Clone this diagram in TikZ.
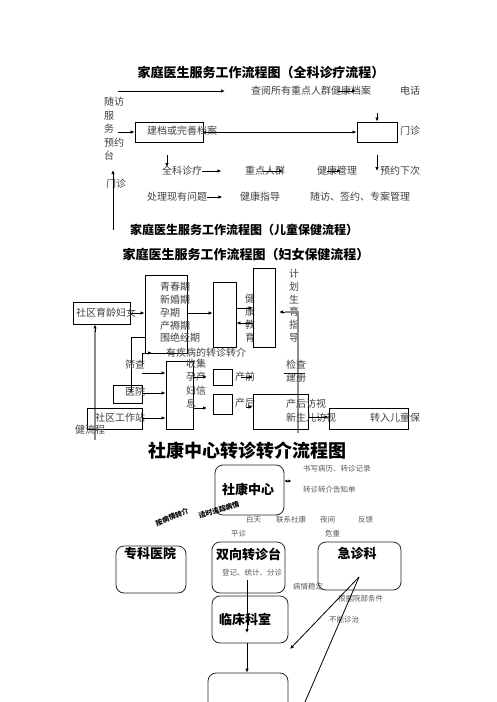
\documentclass[tikz,border=0pt]{standalone}
\usepackage{fontspec}
\setmainfont{Noto Sans CJK SC}
\usetikzlibrary{arrows.meta, positioning}

\begin{document}
\begin{tikzpicture}[
    x=1pt, y=-1pt,
    title/.style={font=\fontsize{13}{15}\selectfont\bfseries, inner sep=0},
    txt/.style={font=\fontsize{10}{13}\selectfont, text=black!75, inner sep=0, anchor=west},
    small/.style={font=\fontsize{7.5}{9}\selectfont, text=black!65, inner sep=0, anchor=west},
    head/.style={font=\fontsize{13}{15}\selectfont\bfseries, inner sep=0},
    box/.style={draw, line width=0.9pt, inner sep=0},
    rbox/.style={draw=black!85, line width=0.8pt, rounded corners=8pt, inner sep=0},
    arr/.style={-{Latex[length=4pt, width=3.5pt]}, line width=0.8pt},
    gline/.style={draw=black!45, line width=1.3pt},
]
    \useasboundingbox (0,0) rectangle (496,702);

    % General practice flow
    \node[title] (t1) at (261,73) {家庭医生服务工作流程图（全科诊疗流程）};
    \coordinate (c1) at (118,91);
    \coordinate (c1e) at (225,91);
    \draw[arr] (c1) -- (c1e);
    \node[txt] (cyda) at (251,91) {查阅所有重点人群健康档案};
    \draw[arr] (338,91) -- (356,91);
    \node[txt] (dh) at (400,91) {电话};
    \node[txt, align=left, anchor=north west, font=\fontsize{10}{13.5}\selectfont] (sfys) at (104,97) {随访\\服\\务\\预约\\台};

    \node[box, minimum width=68, minimum height=20] (jdbox) at (169,132) {};
    \node[txt] (jd) at (147,131) {建档或完善档案};
    \coordinate (c2) at (118,132);
    \draw[arr] (c2) -- (jdbox.west);
    \node[box, minimum width=40, minimum height=20] (mzbox) at (377,132) {};
    \draw[arr] (jdbox.east) -- (mzbox.west);
    \coordinate (c3) at (377,113);
    \draw[arr] (c3) -- (mzbox.north);
    \node[txt] (mz) at (400,131) {门诊};

    \node[txt] (qkzl) at (162,171) {全科诊疗};
    \draw[arr] (167,155) -- (167,167);
    \draw[arr] (qkzl.east) -- ++(19,0);
    \node[txt] (zdrq) at (245,171) {重点人群};
    \draw[arr] (263,171) -- (283,171);
    \node[txt] (jkgl) at (317,171) {健康管理};
    \draw[arr] (327,171) -- (341,171);
    \node[txt] (yyxc) at (380,171) {预约下次};
    \draw[arr] (377,155) -- (377,171);
    \node[txt] (mz2) at (106,184) {门诊};
    \node[txt] (clwt) at (147,197) {处理现有问题};
    \draw[arr] (clwt.east) -- ++(15,0);
    \node[txt] (jkzd) at (240,197) {健康指导};
    \node[txt] (sfqy) at (310,197) {随访、签约、专案管理};
    \draw[arr] (113,230) -- (113,170);

    % Titles
    \node[title, font=\fontsize{12}{14}\selectfont\bfseries] (t2) at (244,230) {家庭医生服务工作流程图（儿童保健流程）};
    \node[title] (t3) at (246,255) {家庭医生服务工作流程图（妇女保健流程）};

    % Women's health flow
    \node[box, minimum width=57, minimum height=22] (sqbox) at (101.5,313) {};
    \node[txt] (sq) at (76,313) {社区育龄妇女};
    \node[box, minimum width=42, minimum height=78] (qcbox) at (166,314) {};
    \node[txt, align=left, anchor=north west, font=\fontsize{10}{12.8}\selectfont] (qc) at (160,282) {青春期\\新婚期\\孕期\\产褥期\\围绝经期};
    \draw[arr] (sqbox.east) -- (qcbox.west |- 0,313);
    \node[box, minimum width=23, minimum height=65] (jybox) at (224.5,314.5) {};
    \draw[arr] (qcbox.east |- 0,313) -- (jybox.west |- 0,313);
    \node[txt, align=center, anchor=north] (jkjy) at (250,294) {健\\康\\教\\育};
    \node[box, minimum width=22, minimum height=79] (jhbox) at (264,307.5) {};
    \draw[arr] (jybox.east |- 0,308) -- (jhbox.west |- 0,308);
    \draw[arr] (jhbox.west |- 0,323) -- (jybox.east |- 0,323);
    \node[txt, align=center, anchor=north, font=\fontsize{10}{12.8}\selectfont] (jhsy) at (294,269) {计\\划\\生\\育\\指\\导};
    \draw[gline] (298,433) -- (298,312) -- (285,312);
    \draw[arr] (285,312) -- (279,312);
    \draw[gline] (95,440) -- (95,330);
    \draw[arr] (95,332) -- (sqbox.south -| 95,0);

    \draw[line width=0.8pt] (qcbox.west |- 0,337) -- (131,337) -- (131,380);
    \node[box, minimum width=29, minimum height=18] (yybox) at (127.5,394) {};
    \draw[arr] (131,380) -- (131,393);
    \node[txt] (yy) at (125,392) {医院};
    \draw[arr] (142,365) -- (142,353) -- (152,353);
    \node[txt] (yjb) at (166,353) {有疾病的转诊转介};
    \node[txt] (sc) at (125,365) {筛查};
    \node[box, minimum width=55, minimum height=21] (gzzbox) at (114.5,418.5) {};
    \node[txt] (gzz) at (95,418) {社区工作站};
    \node[txt] (jlc) at (75,430) {健流程};

    \node[box, minimum width=27, minimum height=68] (sjbox) at (179.5,395) {};
    \node[txt, align=left, anchor=north west, font=\fontsize{10}{13.3}\selectfont] (sj) at (186,359) {收集\\孕产\\妇信\\息};
    \draw[arr] (142,373) -- (sjbox.west |- 0,373);
    \draw[arr] (yybox.east |- 0,393) -- (sjbox.west |- 0,393);
    \draw[arr] (gzzbox.east |- 0,418) -- (sjbox.west |- 0,418);

    \node[box, minimum width=19, minimum height=16] (cqbox) at (222.5,377) {};
    \node[txt] (cq) at (235,377) {产前};
    \draw[arr] (sjbox.east |- 0,377) -- (207,377);
    \draw[arr] (241,377) -- (253,377);
    \node[box, minimum width=19, minimum height=20] (chbox) at (222.5,404) {};
    \node[txt] (ch) at (235,403) {产后};
    \draw[arr] (sjbox.east |- 0,408) -- (207,408);
    \node[txt] (jc) at (286,365) {检查};
    \draw[line width=0.8pt] (284,373) -- (305,373);
    \node[txt] (jcc) at (286,378) {建册};
    \node[box, minimum width=55, minimum height=35] (fsbox) at (280.5,411.5) {};
    \draw[arr] (246,407) -- (fsbox.west |- 0,407);
    \node[txt, align=left, anchor=north west, font=\fontsize{10}{14}\selectfont] (fs) at (286,399) {产后访视\\新生儿访视};
    \node[box, minimum width=79, minimum height=21] (zrbox) at (368.5,418.5) {};
    \draw[arr] (fsbox.east |- 0,417) -- (zrbox.west |- 0,417);
    \node[txt] (zr) at (370,418) {转入儿童保};

    % Referral flow
    \node[title, font=\fontsize{18}{20}\selectfont\bfseries] (t4) at (247.5,451) {社康中心转诊转介流程图};
    \node[rbox, minimum width=69, minimum height=50] (skbox) at (249.5,490) {};
    \node[head] (sk) at (248,490) {社康中心};
    \draw[{Latex[length=3pt, width=3pt]}-{Latex[length=3pt, width=3pt]}, line width=0.6pt] (skbox.east |- 0,481) -- ++(7,0);
    \node[small] (sxbl) at (303,469) {书写病历、转诊记录};
    \node[small] (gzd) at (303,490) {转诊转介告知单};
    \node[small, anchor=center, font=\fontsize{7}{8}\selectfont\bfseries, text=black, rotate=22] (abq) at (172,517) {按病情转介};
    \node[small, anchor=center, font=\fontsize{7}{8}\selectfont\bfseries, text=black, rotate=17] (sszz) at (219,510) {适时追踪病情};
    \node[small] (bt) at (246,520) {白天};
    \node[small] (lxsk) at (276,520) {联系社康};
    \node[small] (yj) at (320,520) {夜间};
    \node[small] (fk) at (358,520) {反馈};
    \node[small] (pz) at (231,534) {平诊};
    \node[small] (wz) at (325,534) {危重};

    \node[rbox, minimum width=70, minimum height=47] (zkbox) at (151,569.5) {};
    \node[head] (zk) at (150,554) {专科医院};
    \node[rbox, minimum width=73, minimum height=51] (sxbox) at (248.5,567.5) {};
    \node[head] (sx) at (248.5,554) {双向转诊台};
    \node[small, anchor=center] (djtj) at (252,573) {登记、统计、分诊};
    \node[rbox, minimum width=83, minimum height=48] (jzbox) at (359.5,566) {};
    \node[head] (jz) at (357,554) {急诊科};
    \node[small] (bqwd) at (293,587) {病情稳定};
    \node[small] (gjyb) at (338,599) {根据院部条件};
    \node[small] (bnzz) at (329,620) {不能诊治};

    \node[rbox, minimum width=76, minimum height=47] (lcbox) at (250,619.5) {};
    \node[head] (lc) at (245,619) {临床科室};
    \coordinate (c4) at (247,580);
    \draw[arr] (c4) -- (247,633);
    \node[rbox, minimum width=80, minimum height=56] (endbox) at (248,701) {};
    \draw[arr] (lcbox.south -| 247,0) -- (endbox.north -| 247,0);
    \coordinate (jp) at (359,577);
    \coordinate (jpe) at (305,702);
    \draw[arr] (jp) -- (290,649);
    \draw[line width=0.8pt] (jp) -- (jpe);
\end{tikzpicture}
\end{document}
